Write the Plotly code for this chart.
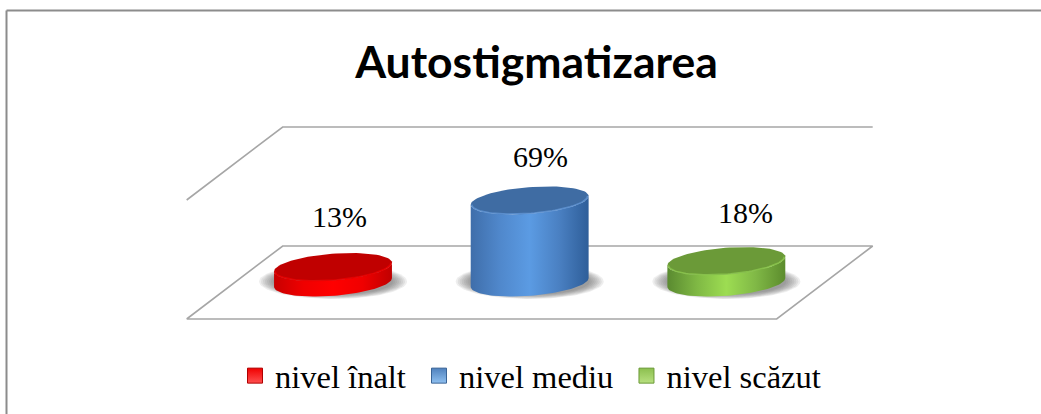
import numpy as np
import plotly.graph_objects as go

# chart data
CATEGORIES = ['nivel înalt', 'nivel mediu', 'nivel scăzut']
VALUES = [13, 69, 18]
LABELS = ['13%', '69%', '18%']
AXIS_MAX = 100

# colours per bar: top cap, rim highlight, legend swatch, side gradient
CAP_COLORS = ['#C00000', '#3F6CA3', '#6B9A38']
RIM_COLORS = ['rgba(235,0,0,0.8)', 'rgba(97,150,214,0.8)', 'rgba(140,200,78,0.8)']
SWATCH_COLORS = ['#F00000', '#4F81BD', '#8CBF4F']
SWATCH_GLOW = ['#FF5050', '#8FC0F0', '#B8E080']
SWATCH_EDGE = ['#B00000', '#3A6496', '#6A9A36']
SIDE_COLORS = [
    ['#C80000', '#F00000', '#FF0000', '#F00000', '#C00000'],
    ['#3F6EAA', '#5088CC', '#5B9BE3', '#4A80C2', '#2E5E99'],
    ['#5A8A30', '#7FB844', '#9DDD52', '#80B846', '#5C8C2D'],
]

W, H = 1041, 414
# pixels per category and per percent, screen position of category 0 on the floor
PX_CAT, PX_PCT = 196.67, 1.19
X0_PX, Y0_PX = 333, 282.5
# half depth of the floor in pixels (oblique projection), and cylinder radii
DEPTH_X, DEPTH_Y = 48, 36.5
CYL_A, CYL_DX, CYL_DY = 56, 18.4, 14

# label offsets from the top of each bar, in pixels
LABEL_DX = [6, 11, 19]
LABEL_DY = [51, 44, 49]

dx_cat = DEPTH_X / PX_CAT
dy_pct = DEPTH_Y / PX_PCT


def ellipse(center, value, t, grow=0):
    # circle lying flat at height `value`, sheared like the floor
    a = (CYL_A + grow) / PX_CAT
    dx = (CYL_DX + grow * 0.3) / PX_CAT
    dy = (CYL_DY + grow * 0.3) / PX_PCT
    return center + a * np.cos(t) - dx * np.sin(t), value - dy * np.sin(t)


fig = go.Figure()

# floor and the 100% plane
left, right = -0.5, len(CATEGORIES) - 0.5
floor_x = [left - dx_cat, right - dx_cat, right + dx_cat, left + dx_cat, left - dx_cat]
floor_y = [-dy_pct, -dy_pct, dy_pct, dy_pct, -dy_pct]
top_x = [left - dx_cat, left + dx_cat, right + dx_cat]
top_y = [AXIS_MAX - dy_pct, AXIS_MAX + dy_pct, AXIS_MAX + dy_pct]
for xs, ys in [(floor_x, floor_y), (top_x, top_y)]:
    fig.add_trace(go.Scatter(x=xs, y=ys, mode='lines', showlegend=False, hoverinfo='skip',
                             line=dict(color='#A6A6A6', width=1.6)))

t_right = np.arctan2(-CYL_DX, CYL_A)
front = np.linspace(t_right, t_right + np.pi, 60)
whole = np.linspace(0, 2 * np.pi, 90)

for i, value in enumerate(VALUES):
    # soft shadow under the bar, flat and a bit wider than the base
    for grow in range(15, -1, -2):
        sx = i + (59 + grow) / PX_CAT * np.cos(whole)
        sy = 1 / PX_PCT + (13 + grow * 0.3) / PX_PCT * np.sin(whole)
        fig.add_trace(go.Scatter(x=sx, y=sy, mode='lines', fill='toself', showlegend=False,
                                 hoverinfo='skip', line=dict(width=0),
                                 fillcolor='rgba(90,90,90,0.1)'))

    # side of the cylinder
    bx, by = ellipse(i, 0, front)
    tx, ty = ellipse(i, value, front[::-1])
    stops = np.linspace(0, 1, len(SIDE_COLORS[i]))
    fig.add_trace(go.Scatter(
        x=np.concatenate([bx, tx]), y=np.concatenate([by, ty]),
        mode='lines', fill='toself', showlegend=False, hoverinfo='skip',
        line=dict(width=0),
        fillgradient=dict(type='horizontal',
                          colorscale=[[s, c] for s, c in zip(stops, SIDE_COLORS[i])]),
    ))

    # top cap, with a lighter rim on the front edge
    cx, cy = ellipse(i, value, whole)
    fig.add_trace(go.Scatter(x=cx, y=cy, mode='lines', fill='toself', showlegend=False,
                             hoverinfo='skip', line=dict(width=0), fillcolor=CAP_COLORS[i]))
    rx, ry = ellipse(i, value, front, -1)
    fig.add_trace(go.Scatter(x=rx, y=ry, mode='lines', showlegend=False, hoverinfo='skip',
                             line=dict(color=RIM_COLORS[i], width=1.5)))

    fig.add_annotation(x=i, y=value, text=LABELS[i], showarrow=False,
                       xshift=LABEL_DX[i], yshift=LABEL_DY[i], xanchor='center', yanchor='middle',
                       font=dict(family='Liberation Serif', size=30, color='#000000'))

# legend entries, the no-break space widens the gap to the next entry
for i, name in enumerate(CATEGORIES):
    fig.add_trace(go.Scatter(
        x=[None], y=[None], mode='markers', name=name + '\u00a0',
        marker=dict(symbol='square', size=15, color=SWATCH_COLORS[i],
                    gradient=dict(type='vertical', color=SWATCH_GLOW[i]),
                    line=dict(color=SWATCH_EDGE[i], width=1)),
    ))

fig.update_layout(
    width=W, height=H,
    margin=dict(l=0, r=0, t=0, b=0),
    paper_bgcolor='white', plot_bgcolor='white',
    title=dict(text='<b>Autostigmatizarea</b>', x=536.5 / W, y=1 - 62 / H,
               xanchor='center', yanchor='middle',
               font=dict(family='Lato', size=44.5, color='#000000')),
    xaxis=dict(visible=False, fixedrange=True, domain=[0, 1],
               range=[-X0_PX / PX_CAT, (W - X0_PX) / PX_CAT]),
    yaxis=dict(visible=False, fixedrange=True, domain=[0, 1],
               range=[(Y0_PX - H) / PX_PCT, Y0_PX / PX_PCT]),
    showlegend=True,
    legend=dict(orientation='h', x=235 / W, y=1 - 376 / H, xanchor='left', yanchor='middle',
                font=dict(family='Liberation Serif', size=32.5, color='#000000'),
                itemclick=False, itemdoubleclick=False),
    shapes=[
        dict(type='line', xref='paper', yref='paper', x0=6.5 / W, x1=1, y0=1 - 10.5 / H, y1=1 - 10.5 / H,
             line=dict(color='#8C8C8C', width=2)),
        dict(type='line', xref='paper', yref='paper', x0=6.5 / W, x1=6.5 / W, y0=0, y1=1 - 10.5 / H,
             line=dict(color='#8C8C8C', width=2)),
    ],
)

fig.write_html("out.html", config=dict(displayModeBar=False),
               post_script="document.body.style.margin='0';document.body.style.overflow='hidden';")
